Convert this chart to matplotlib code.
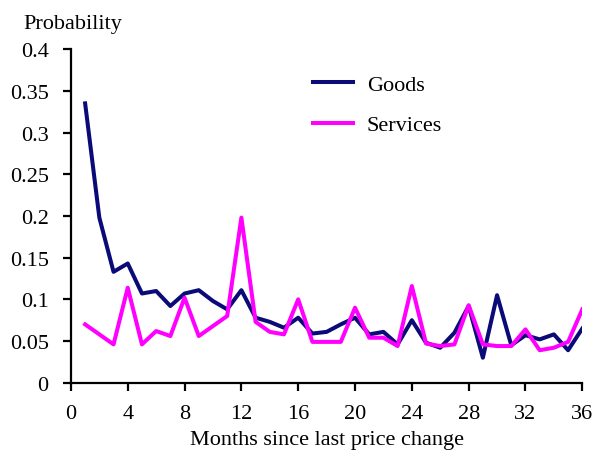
import numpy as np
import matplotlib
matplotlib.use("Agg")
import matplotlib.pyplot as plt

# Meses desde el ultimo cambio de precio
meses = list(range(1, 37))

bienes = [0.335, 0.198, 0.133, 0.143, 0.107, 0.110, 0.092, 0.107, 0.111, 0.098,
          0.088, 0.111, 0.078, 0.073, 0.066, 0.078, 0.059, 0.061, 0.070, 0.078,
          0.058, 0.061, 0.046, 0.075, 0.048, 0.042, 0.060, 0.092, 0.030, 0.105,
          0.045, 0.057, 0.052, 0.058, 0.039, 0.065]

servicios = [0.070, 0.058, 0.046, 0.114, 0.046, 0.062, 0.056, 0.102, 0.056, 0.068,
             0.080, 0.198, 0.073, 0.061, 0.058, 0.100, 0.049, 0.049, 0.049, 0.090,
             0.054, 0.054, 0.044, 0.116, 0.047, 0.044, 0.046, 0.093, 0.046, 0.044,
             0.044, 0.064, 0.039, 0.042, 0.049, 0.088]

xticks = list(range(0, 37, 4))
yticks = [0, 0.05, 0.1, 0.15, 0.2, 0.25, 0.3, 0.35, 0.4]
yticklabels = ["0", "0.05", "0.1", "0.15", "0.2", "0.25", "0.3", "0.35", "0.4"]

plt.rcParams['font.family'] = ['Liberation Serif', 'DejaVu Serif']

fig = plt.figure(figsize=(5.96, 4.52), dpi=100)
ax = fig.add_axes([0.119, 0.151, 0.858, 0.738])

ax.plot(meses, bienes, color="#0a0a78", lw=2.9, label="Goods")
ax.plot(meses, servicios, color="#ff00ff", lw=2.9, label="Services")

ax.set_xlim(0, 36)
ax.set_ylim(0, 0.4)
ax.set_xticks(xticks)
ax.set_yticks(yticks)
ax.set_yticklabels(yticklabels)
ax.tick_params(labelsize=16, width=1.6, length=6, direction="out")
ax.tick_params(axis="y", pad=10)
ax.tick_params(axis="x", pad=9)

for s in ["top", "right"]:
    ax.spines[s].set_visible(False)
for s in ["left", "bottom"]:
    ax.spines[s].set_linewidth(1.6)

fig.text(0.04, 0.945, "Probability", fontsize=16, ha="left", va="center")
ax.set_xlabel("Months since last price change", fontsize=16, labelpad=5)

ax.legend(loc="upper left", bbox_to_anchor=(0.435, 0.985), frameon=False,
          fontsize=16, handlelength=1.8, handletextpad=0.6, labelspacing=0.9)

fig.savefig("out.png", dpi=100)
